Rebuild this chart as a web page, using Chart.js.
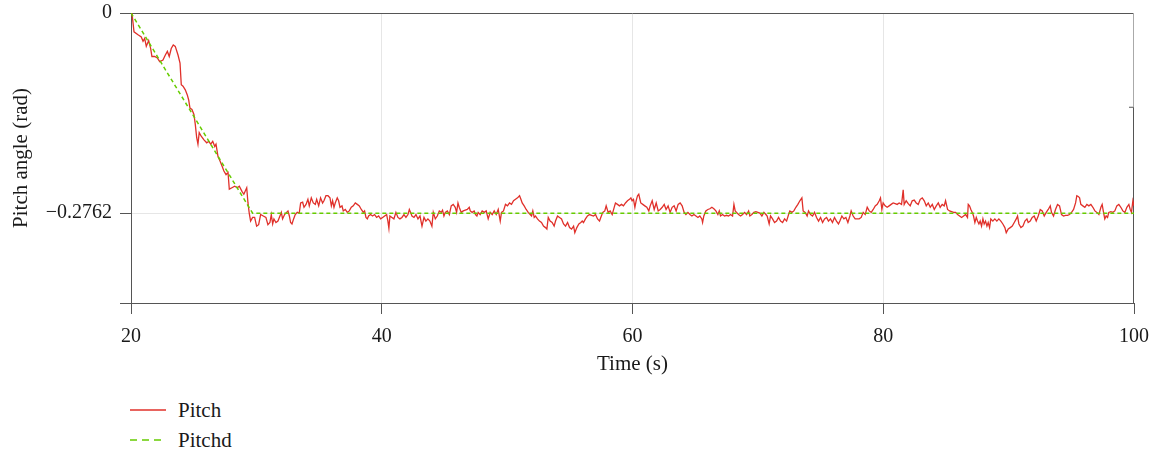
<!DOCTYPE html>
<html>
<head>
<meta charset="utf-8">
<script src="https://cdn.jsdelivr.net/npm/chart.js@4"></script>
<style>
  body { margin: 0; background: #fff; }
  #wrap { position: relative; width: 1156px; height: 456px; font-family: 'Liberation Serif', serif; color: #1a1a1a; }
  #legend { position: absolute; left: 130px; top: 395px; font-size: 21px; }
  #legend .item { display: flex; align-items: center; height: 30px; }
  #legend svg { margin-right: 12px; }
</style>
</head>
<body>
<div id="wrap">
  <canvas id="pitchChart" width="1156" height="380"></canvas>
  <div id="legend"></div>
</div>
<script>
const pitchT = [20.00,20.08,20.24,20.56,20.82,20.96,21.09,21.22,21.41,21.57,21.67,21.89,22.10,22.29,22.55,22.74,22.90,23.05,23.21,23.37,23.53,23.75,23.91,24.01,24.15,24.33,24.49,24.60,24.70,24.86,25.02,25.13,25.24,25.34,25.44,25.60,25.82,26.04,26.20,26.36,26.52,26.68,26.78,26.94,27.10,27.26,27.41,27.58,27.74,27.84,28.05,28.27,28.48,28.64,28.85,29.00,29.23,29.33,29.43,29.54,29.70,29.86,30.02,30.18,30.34,30.55,30.76,30.92,
  31.08,31.19,31.30,31.40,31.56,31.72,31.88,31.99,32.09,32.25,32.41,32.52,32.63,32.73,32.84,32.97,33.10,33.26,33.42,33.53,33.69,33.80,33.96,34.11,34.22,34.38,34.54,34.70,34.81,34.97,35.12,35.28,35.39,35.55,35.71,35.87,35.98,36.08,36.19,36.29,36.45,36.56,36.67,36.83,36.93,37.09,37.25,37.41,37.57,37.73,37.89,38.05,38.21,38.37,38.53,38.63,38.74,38.85,38.95,39.11,39.27,39.43,39.59,39.75,39.91,
  40.07,40.23,40.39,40.49,40.57,40.65,40.81,40.97,41.13,41.29,41.45,41.61,41.77,41.93,42.09,42.20,42.30,42.41,42.57,42.73,42.89,43.05,43.21,43.37,43.52,43.68,43.84,44.00,44.11,44.27,44.43,44.59,44.75,44.85,44.96,45.07,45.23,45.39,45.54,45.70,45.86,45.97,46.08,46.18,46.34,46.50,46.66,46.82,46.98,
  47.06,47.21,47.37,47.48,47.59,47.69,47.85,48.01,48.17,48.33,48.49,48.65,48.81,48.97,49.13,49.29,49.45,49.55,49.71,49.87,50.03,50.19,50.35,50.51,50.67,50.83,50.99,51.10,51.20,51.36,51.52,51.68,51.84,51.95,52.05,52.16,52.26,52.42,52.58,52.74,52.90,53.06,53.17,53.28,53.43,53.59,53.75,53.86,54.02,54.18,54.34,54.50,54.66,54.82,54.98,55.14,55.30,55.40,55.56,55.72,55.88,55.99,56.09,56.25,56.41,56.57,56.73,56.89,57.05,57.21,57.37,57.47,57.63,57.79,57.90,58.06,58.22,58.38,58.54,58.64,58.80,58.96,59.12,59.28,59.44,59.60,59.76,59.87,59.97,
  60.08,60.19,60.29,60.40,60.50,60.66,60.82,60.98,61.14,61.30,61.41,61.57,61.73,61.89,62.05,62.21,62.37,62.53,62.68,62.84,63.00,63.16,63.32,63.48,63.64,63.80,63.96,64.12,
  64.26,64.42,64.58,64.74,64.90,65.06,65.22,65.37,65.53,65.59,65.69,65.85,66.01,66.17,66.33,66.49,66.65,66.81,66.92,67.02,67.18,67.34,67.50,67.66,67.82,67.98,68.09,68.19,68.30,68.46,68.62,68.78,68.94,69.10,69.26,69.36,69.52,69.68,69.84,70.00,70.16,70.32,70.48,70.64,70.74,70.90,71.01,71.17,71.33,71.49,71.65,71.81,71.97,72.13,72.29,72.45,72.55,72.71,72.87,73.03,73.19,73.35,73.51,73.61,73.77,73.93,74.04,74.20,74.36,74.52,74.68,74.84,75.00,75.16,75.32,75.48,75.63,75.79,75.95,76.11,76.27,76.43,76.54,76.70,76.86,77.02,77.18,77.34,77.44,77.60,77.76,77.92,78.08,78.24,78.40,78.56,78.72,78.88,79.04,79.20,79.36,79.52,79.68,79.78,79.89,79.99,
  80.15,80.31,80.47,80.63,80.79,80.95,81.11,81.27,81.46,81.59,81.67,81.83,81.99,82.15,82.31,82.47,82.63,82.79,82.95,83.11,83.27,83.43,83.59,83.75,83.91,84.07,84.23,84.39,84.54,84.70,84.86,84.97,85.13,85.29,85.45,85.61,85.77,85.93,86.09,86.25,86.41,86.57,86.72,86.78,86.88,86.99,87.10,87.20,87.31,87.42,87.52,87.63,87.73,87.84,87.95,88.05,88.16,88.27,88.37,88.48,88.58,88.74,88.90,89.06,89.22,89.38,89.54,89.70,89.81,89.97,
  90.13,90.29,90.45,90.61,90.71,90.82,90.98,91.14,91.30,91.46,91.56,91.72,91.88,92.04,92.20,92.36,92.52,92.68,92.84,93.00,93.16,93.32,93.42,93.58,93.74,93.90,94.06,94.22,94.38,94.54,94.70,94.86,95.02,95.18,95.34,95.44,95.55,95.66,95.76,95.92,96.08,96.24,96.40,96.56,96.72,96.88,97.04,97.20,97.36,97.46,97.57,97.67,97.78,97.89,97.99,98.15,98.31,98.47,98.63,98.79,98.95,99.11,99.27,99.43,99.59,99.70,99.80,99.91,100.00];

const pitchV = [0,-0.001,-0.026,-0.030,-0.033,-0.039,-0.035,-0.046,-0.038,-0.049,-0.060,-0.060,-0.062,-0.067,-0.065,-0.058,-0.053,-0.060,-0.049,-0.044,-0.046,-0.058,-0.069,-0.099,-0.101,-0.106,-0.113,-0.120,-0.131,-0.133,-0.140,-0.154,-0.172,-0.181,-0.165,-0.170,-0.175,-0.179,-0.177,-0.181,-0.177,-0.184,-0.181,-0.198,-0.204,-0.211,-0.218,-0.223,-0.220,-0.243,-0.241,-0.239,-0.241,-0.239,-0.246,-0.250,-0.241,-0.262,-0.276,-0.287,-0.282,-0.282,-0.294,-0.292,-0.278,-0.280,-0.282,-0.292,
  -0.289,-0.278,-0.291,-0.284,-0.289,-0.287,-0.280,-0.275,-0.284,-0.278,-0.275,-0.273,-0.280,-0.289,-0.291,-0.284,-0.278,-0.275,-0.276,-0.262,-0.261,-0.268,-0.264,-0.257,-0.266,-0.255,-0.262,-0.264,-0.257,-0.266,-0.255,-0.262,-0.259,-0.252,-0.252,-0.255,-0.266,-0.259,-0.268,-0.262,-0.255,-0.259,-0.268,-0.266,-0.273,-0.271,-0.275,-0.273,-0.268,-0.266,-0.262,-0.264,-0.266,-0.271,-0.275,-0.273,-0.282,-0.284,-0.280,-0.278,-0.280,-0.278,-0.282,-0.280,-0.284,
  -0.282,-0.280,-0.278,-0.287,-0.297,-0.280,-0.282,-0.284,-0.275,-0.282,-0.284,-0.282,-0.278,-0.282,-0.278,-0.271,-0.275,-0.280,-0.282,-0.278,-0.284,-0.280,-0.294,-0.282,-0.287,-0.284,-0.287,-0.294,-0.275,-0.284,-0.280,-0.273,-0.275,-0.272,-0.280,-0.275,-0.273,-0.278,-0.266,-0.264,-0.268,-0.275,-0.262,-0.268,-0.275,-0.273,-0.272,-0.271,-0.268,
  -0.273,-0.275,-0.273,-0.278,-0.280,-0.275,-0.278,-0.273,-0.275,-0.273,-0.284,-0.275,-0.278,-0.273,-0.278,-0.271,-0.287,-0.275,-0.273,-0.264,-0.266,-0.262,-0.264,-0.259,-0.257,-0.255,-0.252,-0.257,-0.262,-0.266,-0.271,-0.275,-0.278,-0.280,-0.273,-0.282,-0.280,-0.284,-0.287,-0.289,-0.294,-0.296,-0.298,-0.282,-0.287,-0.289,-0.294,-0.287,-0.280,-0.282,-0.284,-0.291,-0.294,-0.289,-0.296,-0.298,-0.294,-0.303,-0.296,-0.291,-0.289,-0.287,-0.289,-0.284,-0.280,-0.278,-0.279,-0.280,-0.278,-0.284,-0.287,-0.282,-0.275,-0.273,-0.266,-0.275,-0.273,-0.278,-0.268,-0.262,-0.264,-0.266,-0.264,-0.266,-0.262,-0.259,-0.257,-0.255,-0.259,
  -0.257,-0.268,-0.259,-0.252,-0.250,-0.262,-0.264,-0.266,-0.268,-0.273,-0.266,-0.259,-0.271,-0.262,-0.273,-0.271,-0.268,-0.264,-0.271,-0.266,-0.275,-0.268,-0.266,-0.273,-0.264,-0.262,-0.266,-0.275,
  -0.278,-0.275,-0.278,-0.280,-0.278,-0.280,-0.282,-0.280,-0.284,-0.289,-0.280,-0.273,-0.271,-0.270,-0.268,-0.270,-0.273,-0.278,-0.273,-0.280,-0.278,-0.280,-0.279,-0.280,-0.278,-0.280,-0.264,-0.273,-0.275,-0.278,-0.280,-0.278,-0.275,-0.278,-0.273,-0.280,-0.278,-0.275,-0.274,-0.275,-0.276,-0.280,-0.275,-0.278,-0.280,-0.291,-0.280,-0.284,-0.289,-0.287,-0.282,-0.287,-0.289,-0.284,-0.287,-0.278,-0.273,-0.275,-0.273,-0.268,-0.264,-0.259,-0.255,-0.273,-0.275,-0.280,-0.273,-0.278,-0.280,-0.275,-0.282,-0.287,-0.282,-0.289,-0.284,-0.282,-0.287,-0.284,-0.289,-0.282,-0.287,-0.291,-0.287,-0.280,-0.284,-0.282,-0.289,-0.280,-0.273,-0.280,-0.284,-0.284,-0.284,-0.282,-0.275,-0.278,-0.268,-0.273,-0.275,-0.271,-0.266,-0.264,-0.259,-0.255,-0.271,-0.262,
  -0.266,-0.268,-0.266,-0.264,-0.262,-0.263,-0.264,-0.262,-0.264,-0.244,-0.264,-0.259,-0.263,-0.266,-0.259,-0.258,-0.262,-0.264,-0.257,-0.255,-0.259,-0.266,-0.262,-0.268,-0.264,-0.271,-0.266,-0.262,-0.268,-0.264,-0.266,-0.259,-0.271,-0.273,-0.274,-0.275,-0.275,-0.278,-0.280,-0.282,-0.280,-0.278,-0.282,-0.264,-0.266,-0.271,-0.275,-0.280,-0.289,-0.282,-0.287,-0.291,-0.287,-0.294,-0.284,-0.291,-0.287,-0.294,-0.289,-0.296,-0.284,-0.287,-0.284,-0.287,-0.284,-0.287,-0.291,-0.296,-0.303,-0.298,
  -0.296,-0.294,-0.289,-0.284,-0.280,-0.291,-0.296,-0.294,-0.287,-0.284,-0.289,-0.287,-0.282,-0.280,-0.287,-0.280,-0.271,-0.273,-0.280,-0.275,-0.271,-0.266,-0.275,-0.280,-0.271,-0.264,-0.266,-0.278,-0.280,-0.279,-0.279,-0.278,-0.275,-0.271,-0.262,-0.252,-0.253,-0.255,-0.264,-0.266,-0.268,-0.264,-0.266,-0.264,-0.268,-0.273,-0.275,-0.278,-0.268,-0.264,-0.275,-0.284,-0.280,-0.282,-0.275,-0.274,-0.275,-0.273,-0.266,-0.264,-0.268,-0.273,-0.275,-0.268,-0.264,-0.271,-0.275,-0.259,-0.266];

// desired pitch: ramp then hold
const pitchdT = [20, 29.7, 100];
const pitchdV = [0, -0.2762, -0.2762];

const xTicks = [20, 40, 60, 80, 100];
const yTicks = [0, -0.2762, -0.4];
const seriesNames = ['Pitch', 'Pitchd'];
const seriesColors = ['#e0302a', '#66cc00'];
const tickFont = { family: 'Liberation Serif', size: 20 };
const titleFont = { family: 'Liberation Serif', size: 21 };

const frame = {
  id: 'frame',
  beforeDatasetsDraw(chart) {
    const { ctx, chartArea: a, scales } = chart;
    const yMid = scales.y.getPixelForValue(-0.13);
    ctx.save();
    ctx.lineWidth = 1;
    ctx.strokeStyle = '#555';
    ctx.beginPath();
    ctx.moveTo(a.left, a.top + 0.5); ctx.lineTo(a.right, a.top + 0.5);
    ctx.moveTo(a.right - 0.5, yMid); ctx.lineTo(a.right - 0.5, a.bottom);
    ctx.moveTo(a.right - 5, yMid); ctx.lineTo(a.right, yMid);
    ctx.stroke();
    ctx.strokeStyle = '#aaa';
    ctx.beginPath();
    ctx.moveTo(a.right - 0.5, a.top); ctx.lineTo(a.right - 0.5, yMid);
    ctx.stroke();
    ctx.restore();
  }
};

const ctx = document.getElementById('pitchChart').getContext('2d');
new Chart(ctx, {
  type: 'line',
  data: {
    datasets: [{
      label: seriesNames[0],
      data: pitchT.map((t, i) => ({ x: t, y: pitchV[i] })),
      borderColor: seriesColors[0],
      borderWidth: 1.3,
      pointRadius: 0,
      tension: 0,
      order: 2
    }, {
      label: seriesNames[1],
      data: pitchdT.map((t, i) => ({ x: t, y: pitchdV[i] })),
      borderColor: seriesColors[1],
      borderWidth: 1.5,
      borderDash: [4, 3],
      pointRadius: 0,
      tension: 0,
      order: 1
    }]
  },
  options: {
    responsive: false,
    animation: false,
    layout: { padding: { top: 13, right: 22, left: 0, bottom: 0 } },
    scales: {
      x: {
        type: 'linear', min: 20, max: 100,
        afterBuildTicks: (s) => { s.ticks = xTicks.map(v => ({ value: v })); },
        afterFit: (s) => { s.height = 77; s.paddingLeft = 0; s.paddingRight = 0; },
        ticks: { color: '#1a1a1a', font: tickFont, padding: 11, maxRotation: 0 },
        grid: {
          color: (c) => (c.tick && c.tick.value > 20 && c.tick.value < 100) ? '#e6e6e6' : 'rgba(0,0,0,0)',
          tickColor: '#555', tickLength: 11, lineWidth: 1
        },
        border: { display: true, color: '#555', width: 1 },
        title: { display: true, text: 'Time (s)', color: '#1a1a1a', font: titleFont, padding: { top: 10, bottom: 3 } }
      },
      y: {
        type: 'linear', min: -0.4, max: 0,
        afterBuildTicks: (s) => { s.ticks = yTicks.map(v => ({ value: v })); },
        afterFit: (s) => { s.width = 131; s.paddingTop = 0; s.paddingBottom = 0; },
        ticks: {
          color: '#1a1a1a', font: tickFont, padding: 8,
          callback: (v) => v === 0 ? '0' : (v === -0.4 ? '' : '\u2212' + Math.abs(v))
        },
        grid: {
          color: (c) => (c.tick && c.tick.value === -0.2762) ? '#e6e6e6' : 'rgba(0,0,0,0)',
          tickColor: '#555', tickLength: 11, lineWidth: 1
        },
        border: { display: true, color: '#555', width: 1 },
        title: { display: true, text: 'Pitch angle (rad)', color: '#1a1a1a', font: titleFont, padding: { top: 9, bottom: 4 } }
      }
    },
    plugins: { legend: { display: false }, tooltip: { enabled: false } }
  },
  plugins: [frame]
});

// legend below the plot, stacked like the figure
const legend = document.getElementById('legend');
seriesNames.forEach((name, i) => {
  const dash = i === 1 ? 'stroke-dasharray="7 5"' : '';
  legend.insertAdjacentHTML('beforeend',
    `<div class="item"><svg width="36" height="4"><line x1="0" y1="2" x2="36" y2="2" stroke="${seriesColors[i]}" stroke-width="1.5" ${dash}/></svg><span>${name}</span></div>`);
});
</script>
</body>
</html>
